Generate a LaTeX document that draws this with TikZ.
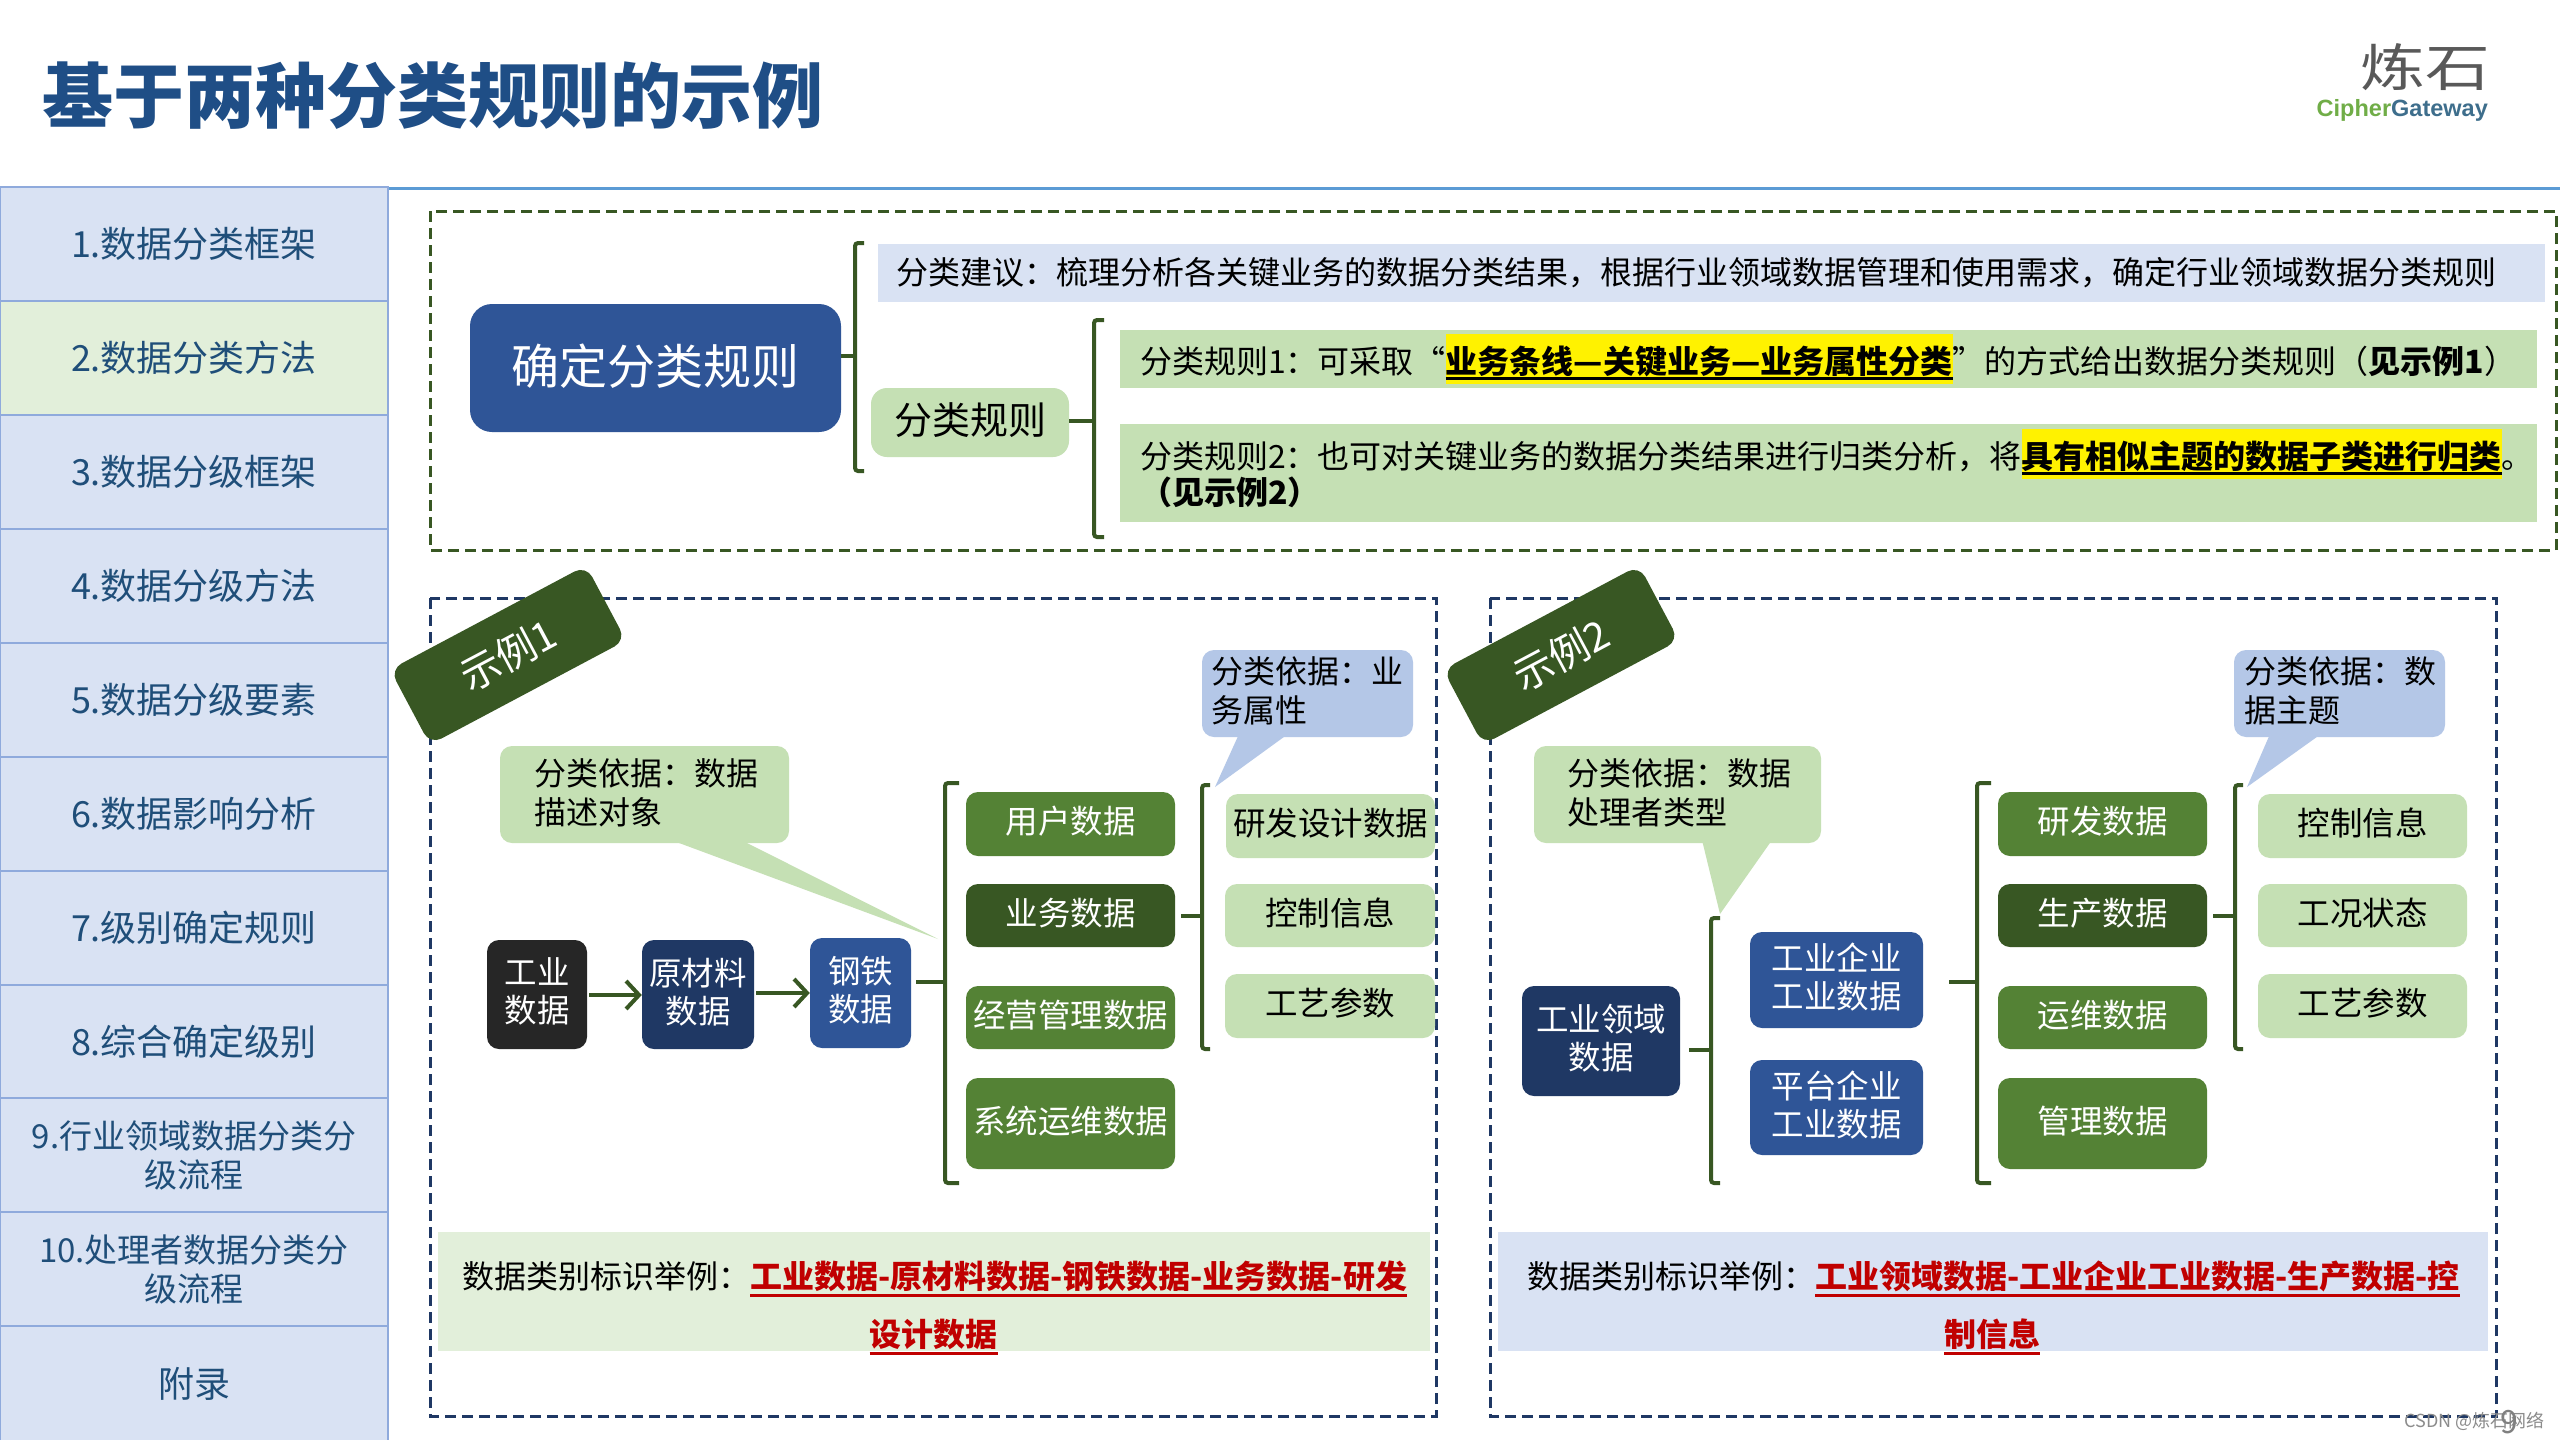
\documentclass[tikz,border=0pt]{standalone}
\usepackage{graphicx}
\usepackage{fontspec}
\setmainfont{Noto Sans CJK SC}
\newfontfamily\latinfont{Liberation Sans}
\usetikzlibrary{arrows.meta}
\definecolor{navy}{HTML}{1F3864}
\definecolor{midblue}{HTML}{2F5597}
\definecolor{darkgreen}{HTML}{385723}
\definecolor{midgreen}{HTML}{548235}
\definecolor{lightgreen}{HTML}{C5E0B4}
\definecolor{palegreen}{HTML}{E2EFDA}
\definecolor{paleblue}{HTML}{D9E2F3}
\definecolor{softblue}{HTML}{B4C7E7}
\definecolor{sideline}{HTML}{8FAADC}
\definecolor{headline}{HTML}{5B9BD5}
\definecolor{titleblue}{HTML}{1F4E86}
\definecolor{sidetext}{HTML}{1F4E79}
\definecolor{redtext}{HTML}{C00000}
\definecolor{coal}{HTML}{262626}
\definecolor{logogreen}{HTML}{70AD47}
\definecolor{logoblue}{HTML}{3E6E8C}
\newcommand\fs[2]{\fontsize{#1}{#2}\selectfont}
% box from corner to corner: name, style, x1,y1,x2,y2, text
\newcommand\Bx[7]{%
  \pgfmathsetmacro\bxcx{(#3+#5)/2}%
  \pgfmathsetmacro\bxcy{(#4+#6)/2}%
  \pgfmathsetmacro\bxw{#5-#3}%
  \pgfmathsetmacro\bxh{#6-#4}%
  \node[#2,minimum width=\bxw pt,minimum height=\bxh pt,inner sep=0pt] (#1) at (\bxcx,\bxcy) {#7};}
% yellow highlight with black rule
\newcommand\hlul[1]{\leavevmode\setbox0\hbox{\textbf{#1}}%
  \rlap{\textcolor{yellow}{\rule[-11pt]{\wd0}{50pt}}}%
  \rlap{\rule[-7pt]{\wd0}{3.5pt}}\box0}
% red bold underlined
\newcommand\redul[1]{\leavevmode\setbox0\hbox{\textcolor{redtext}{\textbf{#1}}}%
  \rlap{\textcolor{redtext}{\rule[-8pt]{\wd0}{3pt}}}\box0}
\tikzset{
  x=1pt,y=-1pt,
  sidebox/.style={draw=sideline,line width=2.5pt,fill=paleblue,text=sidetext,align=center,font=\fs{36}{39}},
  sideboxg/.style={sidebox,fill=palegreen},
  sidesmall/.style={sidebox,font=\fs{33}{39}},
  rbox/.style={rounded corners=12pt,align=center,font=\fs{32.5}{38},text depth=8pt},
  darkbox/.style={rbox,fill=coal,text=white},
  navybox/.style={rbox,fill=navy,text=white},
  bluebox/.style={rbox,fill=midblue,text=white},
  greenbox/.style={rbox,fill=midgreen,text=white},
  dgreenbox/.style={rbox,fill=darkgreen,text=white},
  lightbox/.style={rbox,fill=lightgreen,text=black},
  bracketline/.style={draw=darkgreen,line width=4pt,rounded corners=3pt},
  stemline/.style={draw=darkgreen,line width=4pt},
  flowarrow/.style={draw=darkgreen,line width=4pt,-{Straight Barb[length=13pt,width=28pt,line width=4pt]}},
  tagbox/.style={fill=darkgreen,text=white,rounded corners=13pt,rotate=28,minimum width=222pt,minimum height=85pt,inner sep=0pt,font=\fs{40}{46}},
  callouttext/.style={anchor=west,align=left,inner sep=0pt,font=\fs{32}{39}},
  bartext/.style={anchor=west,align=left,inner sep=0pt,text=black,font=\fs{32}{38}},
  dashgreen/.style={draw=darkgreen,line width=3pt,dash pattern=on 11pt off 6pt},
  dashnavy/.style={draw=navy,line width=3pt,dash pattern=on 11pt off 6pt},
}
\begin{document}
\begin{tikzpicture}
\useasboundingbox (0,0) rectangle (2560,1440);
\fill[white] (0,0) rectangle (2560,1440);

% title and logo
\node[anchor=west,inner sep=0pt,text=titleblue,font=\fs{71}{80}\bfseries] (title) at (42,96) {基于两种分类规则的示例};
\node[inner sep=0pt,text=black!65,font=\fs{60}{64}] (logo) at (2425,67) {\scalebox{1.08}[0.85]{炼石}};
\node[anchor=east,inner sep=0pt,font=\latinfont\bfseries\fs{23.5}{28}] (logotext) at (2488,110) {\textcolor{logogreen}{Cipher}\textcolor{logoblue}{Gateway}};

% header rule
\coordinate (hl) at (389,188);
\coordinate (hr) at (2560,188);
\draw[headline,line width=3pt] (hl) -- (hr);

% sidebar
\Bx{s1}{sidebox}{0}{187}{388}{301}{1.数据分类框架}
\Bx{s2}{sideboxg}{0}{301}{388}{415}{2.数据分类方法}
\Bx{s3}{sidebox}{0}{415}{388}{529}{3.数据分级框架}
\Bx{s4}{sidebox}{0}{529}{388}{643}{4.数据分级方法}
\Bx{s5}{sidebox}{0}{643}{388}{757}{5.数据分级要素}
\Bx{s6}{sidebox}{0}{757}{388}{871}{6.数据影响分析}
\Bx{s7}{sidebox}{0}{871}{388}{985}{7.级别确定规则}
\Bx{s8}{sidebox}{0}{985}{388}{1098}{8.综合确定级别}
\Bx{s9}{sidesmall}{0}{1098}{388}{1212}{9.行业领域数据分类分\\级流程}
\Bx{s10}{sidesmall}{0}{1212}{388}{1326}{10.处理者数据分类分\\级流程}
\Bx{s11}{sidebox}{0}{1326}{388}{1441}{附录}

% dashed frames
\draw[dashgreen] (430,211) rectangle (2556,550);
\draw[dashnavy] (430,598) rectangle (1436,1416);
\draw[dashnavy] (1490,598) rectangle (2496,1416);

% top block
\Bx{mainrule}{rbox,fill=midblue,text=white,rounded corners=22pt,font=\fs{48}{50}}{470}{304}{841}{432}{确定分类规则}
\Bx{suggest}{fill=paleblue}{878}{244}{2545}{302}{}
\node[bartext] (suggesttext) at (896,273) {分类建议：梳理分析各关键业务的数据分类结果，根据行业领域数据管理和使用需求，确定行业领域数据分类规则};
\Bx{rulenode}{rbox,fill=lightgreen,text=black,rounded corners=16pt,font=\fs{38}{42}}{871}{388}{1069}{457}{分类规则}
\Bx{ruleA}{fill=lightgreen}{1120}{330}{2537}{388}{}
\Bx{ruleB}{fill=lightgreen}{1120}{424}{2537}{522}{}
\node[bartext] (ruleAtext) at (1140,359) {分类规则1：可采取“\hlul{业务条线—关键业务—业务属性分类}”的方式给出数据分类规则（\textbf{见示例1}）};
\node[bartext] (ruleBa) at (1140,454) {分类规则2：也可对关键业务的数据分类结果进行归类分析，将\hlul{具有相似主题的数据子类进行归类}。};
\node[bartext] (ruleBb) at (1140,492) {\textbf{（见示例2）}};
\coordinate (b1m) at (855,356);
\coordinate (b2m) at (1094,421);
\draw[bracketline] (864,243) -- (855,243) -- (855,471) -- (864,471);
\draw[stemline] (mainrule.east |- b1m) -- (b1m);
\draw[bracketline] (1104,320) -- (1094,320) -- (1094,537) -- (1104,537);
\draw[stemline] (rulenode.east |- b2m) -- (b2m);

% ===== example 1
\node[tagbox] (tag1) at (508,655) {示例1};

\fill[lightgreen] (671,840) -- (938,939) -- (741,840) -- cycle;
\Bx{call1}{rbox,fill=lightgreen}{500}{746}{789}{843}{}
\node[callouttext] (call1t) at (534,793) {分类依据：数据\\描述对象};
\fill[softblue] (1239,734) -- (1215,787) -- (1288,734) -- cycle;
\Bx{call2}{rbox,fill=softblue}{1202}{650}{1413}{737}{}
\node[callouttext] (call2t) at (1211,691) {分类依据：业\\务属性};

\Bx{ind}{darkbox}{487}{940}{587}{1049}{工业\\数据}
\Bx{raw}{navybox}{642}{940}{754}{1049}{原材料\\数据}
\Bx{steel}{bluebox}{810}{938}{911}{1048}{钢铁\\数据}
\draw[flowarrow] (ind.east |- 0,995) ++(2,0) -- (raw.west |- 0,995);
\draw[flowarrow] (raw.east |- 0,993) ++(2,0) -- (steel.west |- 0,993);

\Bx{ua}{greenbox}{966}{792}{1175}{856}{用户数据}
\Bx{ub}{dgreenbox}{966}{884}{1175}{947}{业务数据}
\Bx{uc}{greenbox}{966}{986}{1175}{1049}{经营管理数据}
\Bx{ud}{greenbox}{966}{1078}{1175}{1169}{系统运维数据}
\Bx{va}{lightbox}{1226}{794}{1435}{858}{研发设计数据}
\Bx{vb}{lightbox}{1225}{884}{1435}{947}{控制信息}
\Bx{vc}{lightbox}{1225}{974}{1435}{1038}{工艺参数}

\coordinate (b3m) at (945,982);
\coordinate (b4m) at (1202,916);
\draw[bracketline] (959,783) -- (945,783) -- (945,1183) -- (959,1183);
\draw[stemline,shorten <=5pt] (steel.east |- b3m) -- (b3m);
\draw[bracketline] (1210,785) -- (1202,785) -- (1202,1049) -- (1210,1049);
\draw[stemline,shorten <=6pt] (ub.east |- b4m) -- (b4m);

\Bx{bar1}{fill=palegreen}{438}{1232}{1430}{1351}{}
\node[bartext] (bar1a) at (462,1279) {数据类别标识举例：\redul{工业数据-原材料数据-钢铁数据-业务数据-研发}};
\node[bartext,anchor=center] (bar1b) at (933.5,1337) {\redul{设计数据}};

% ===== example 2
\node[tagbox] (tag2) at (1561,655) {示例2};

\fill[lightgreen] (1702,840) -- (1720,914) -- (1772,840) -- cycle;
\Bx{call3}{rbox,fill=lightgreen}{1534}{746}{1821}{843}{}
\node[callouttext] (call3t) at (1567,793) {分类依据：数据\\处理者类型};
\fill[softblue] (2270,734) -- (2247,787) -- (2321,734) -- cycle;
\Bx{call4}{rbox,fill=softblue}{2234}{650}{2445}{737}{}
\node[callouttext] (call4t) at (2244,691) {分类依据：数\\据主题};

\Bx{field}{navybox}{1522}{986}{1680}{1096}{工业领域\\数据}
\Bx{ent}{bluebox}{1750}{932}{1923}{1028}{工业企业\\工业数据}
\Bx{plat}{bluebox}{1750}{1060}{1923}{1155}{平台企业\\工业数据}
\Bx{wa}{greenbox}{1998}{792}{2207}{856}{研发数据}
\Bx{wb}{dgreenbox}{1998}{884}{2207}{947}{生产数据}
\Bx{wc}{greenbox}{1998}{986}{2207}{1049}{运维数据}
\Bx{wd}{greenbox}{1998}{1078}{2207}{1169}{管理数据}
\Bx{xa}{lightbox}{2258}{794}{2467}{858}{控制信息}
\Bx{xb}{lightbox}{2258}{884}{2467}{947}{工况状态}
\Bx{xc}{lightbox}{2258}{974}{2467}{1038}{工艺参数}

\coordinate (b5m) at (1711,1050);
\coordinate (b6m) at (1977,982);
\coordinate (b7m) at (2235,916);
\draw[bracketline] (1720,918) -- (1711,918) -- (1711,1183) -- (1720,1183);
\draw[stemline,shorten <=9pt] (field.east |- b5m) -- (b5m);
\draw[bracketline] (1991,783) -- (1977,783) -- (1977,1183) -- (1991,1183);
\draw[stemline,shorten <=26pt] (ent.east |- b6m) -- (b6m);
\draw[bracketline] (2243,785) -- (2235,785) -- (2235,1049) -- (2243,1049);
\draw[stemline,shorten <=6pt] (wb.east |- b7m) -- (b7m);

\Bx{bar2}{fill=paleblue}{1498}{1232}{2488}{1351}{}
\node[bartext] (bar2a) at (1527,1279) {数据类别标识举例：\redul{工业领域数据-工业企业工业数据-生产数据-控}};
\node[bartext,anchor=center] (bar2b) at (1992,1337) {\redul{制信息}};

% footer marks
\node[anchor=east,inner sep=0pt,text=black!45,font=\fs{18}{20}] (csdn) at (2545,1421) {CSDN @炼石网络};
\node[inner sep=0pt,text=black!50,font=\fs{32}{34}] (pageno) at (2509,1422) {9};
\end{tikzpicture}
\end{document}
